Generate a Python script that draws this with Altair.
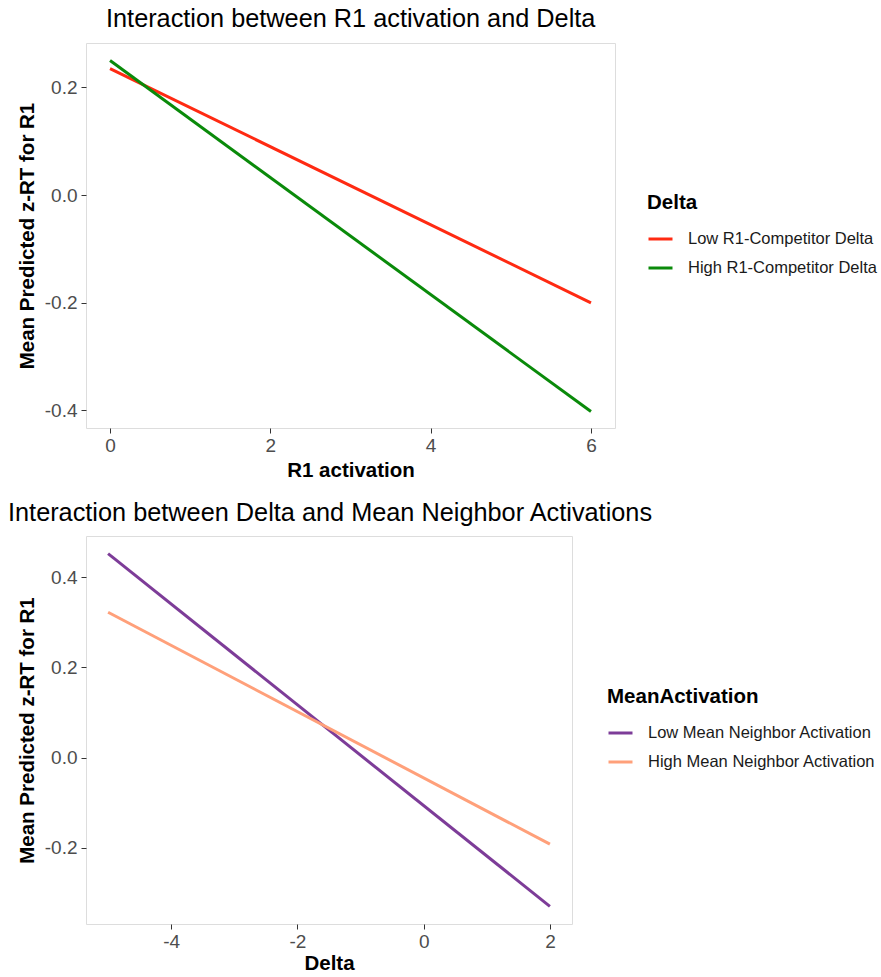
import altair as alt
import pandas as pd

# Top panel: R1 activation x Delta
r1_x = [0, 6, 0, 6]
r1_y = [0.235, -0.200, 0.250, -0.402]
r1_group = ["Low R1-Competitor Delta", "Low R1-Competitor Delta",
            "High R1-Competitor Delta", "High R1-Competitor Delta"]
r1_order = ["Low R1-Competitor Delta", "High R1-Competitor Delta"]
r1_colors = ["#FF2A12", "#0A8A0A"]

# Bottom panel: Delta x Mean neighbor activation
d_x = [-5, 2, -5, 2]
d_y = [0.452, -0.330, 0.322, -0.192]
d_group = ["Low Mean Neighbor Activation", "Low Mean Neighbor Activation",
           "High Mean Neighbor Activation", "High Mean Neighbor Activation"]
d_order = ["Low Mean Neighbor Activation", "High Mean Neighbor Activation"]
d_colors = ["#7D3C98", "#FFA07A"]

top_df = pd.DataFrame({"x": r1_x, "y": r1_y, "g": r1_group})
bot_df = pd.DataFrame({"x": d_x, "y": d_y, "g": d_group})

FONT = "Liberation Sans"
TICK_FS = 19
AXT_FS = 20.5
TITLE_FS = 25.3

def axis_x(title, values, tpad):
    return alt.Axis(title=title, values=values, grid=False, domain=False,
                    labelExpr="(datum.value < 0 ? '-' : '') + format(abs(datum.value), 'd')",
                    tickColor="#333333", tickSize=5, labelFontSize=TICK_FS,
                    labelColor="#4D4D4D", labelFont=FONT, labelPadding=3,
                    titleFont=FONT, titleFontSize=AXT_FS, titleFontWeight="bold",
                    titleColor="#000000", titlePadding=tpad)

def axis_y(values):
    return alt.Axis(title="Mean Predicted z-RT for R1", values=values,
                    labelExpr="(datum.value < 0 ? '-' : '') + format(abs(datum.value), '.1f')",
                    grid=False, domain=False, tickColor="#333333", tickSize=5,
                    labelFontSize=TICK_FS, labelColor="#4D4D4D", labelFont=FONT,
                    labelPadding=4, titleFont=FONT, titleFontSize=AXT_FS,
                    titleFontWeight="bold", titleColor="#000000", titlePadding=7)

def legend(title, lx, ly):
    return alt.Legend(title=title, orient="none", legendX=lx, legendY=ly,
                      symbolType="stroke", symbolStrokeWidth=3, symbolSize=576,
                      titleFont=FONT, titleFontSize=20.5, titleFontWeight="bold",
                      titleColor="#000000", titlePadding=12, titleLimit=0,
                      labelFont=FONT, labelFontSize=16.5, labelColor="#1A1A1A",
                      labelOffset=14, labelLimit=0, rowPadding=7)

top = alt.Chart(top_df).mark_line(strokeWidth=3).encode(
    x=alt.X("x:Q", scale=alt.Scale(domain=[-0.3, 6.3], nice=False, zero=False),
            axis=axis_x("R1 activation", [0, 2, 4, 6], 5)),
    y=alt.Y("y:Q", scale=alt.Scale(domain=[-0.4326, 0.2826], nice=False, zero=False),
            axis=axis_y([-0.4, -0.2, 0.0, 0.2])),
    color=alt.Color("g:N", sort=r1_order,
                    scale=alt.Scale(domain=r1_order, range=r1_colors),
                    legend=legend("Delta", 561, 150)),
).properties(
    width=529, height=385,
    title=alt.TitleParams("Interaction between R1 activation and Delta",
                          anchor="start", frame="group", dx=20, fontSize=TITLE_FS,
                          font=FONT, fontWeight="normal", color="#000000",
                          offset=11),
)

bot = alt.Chart(bot_df).mark_line(strokeWidth=3).encode(
    x=alt.X("x:Q", scale=alt.Scale(domain=[-5.35, 2.35], nice=False, zero=False),
            axis=axis_x("Delta", [-4, -2, 0, 2], 2)),
    y=alt.Y("y:Q", scale=alt.Scale(domain=[-0.369, 0.4911], nice=False, zero=False),
            axis=axis_y([-0.2, 0.0, 0.2, 0.4])),
    color=alt.Color("g:N", sort=d_order,
                    scale=alt.Scale(domain=d_order, range=d_colors),
                    legend=legend("MeanActivation", 521, 151)),
).properties(
    width=486, height=388,
    title=alt.TitleParams("Interaction between Delta and Mean Neighbor Activations",
                          anchor="start", frame="group", dx=-78, fontSize=TITLE_FS,
                          font=FONT, fontWeight="normal", color="#000000",
                          offset=10),
)

chart = alt.vconcat(top, bot, spacing=19).resolve_scale(color="independent").configure_view(
    stroke="#B3B3B3", strokeWidth=1.2
).configure(background="white", padding={"left": 7, "top": 6, "right": 0, "bottom": 0})

chart.save("out.html", embed_options={"renderer": "svg", "actions": False})
